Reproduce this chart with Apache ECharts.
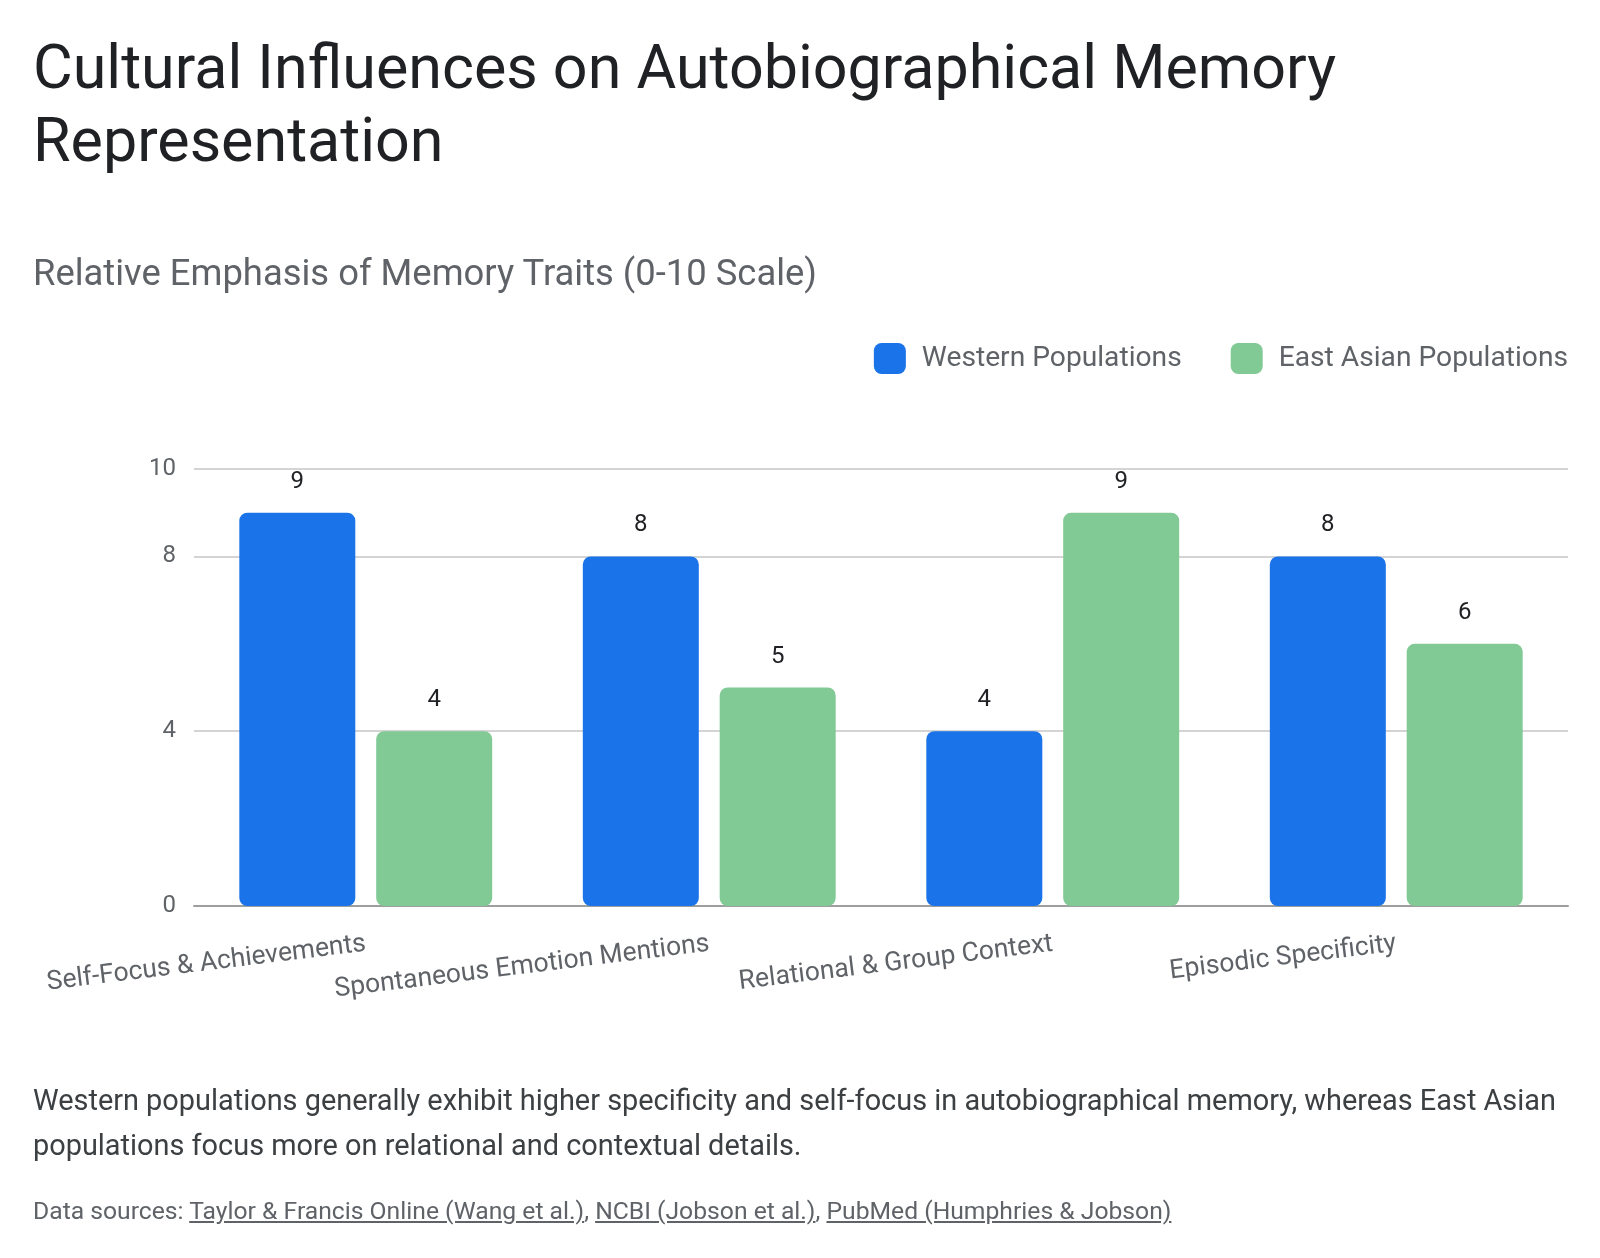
<!DOCTYPE html>
<html>
<head>
<meta charset="utf-8">
<script src="https://cdn.jsdelivr.net/npm/echarts@6/dist/echarts.min.js"></script>
<style>
  html, body { margin: 0; padding: 0; background: #fff; }
  body { width: 1600px; height: 1258px; position: relative; overflow: hidden; font-family: Roboto, "Noto Sans", sans-serif; }
  #chart { position: absolute; left: 0; top: 0; width: 1600px; height: 1258px; }
  .txt { position: absolute; left: 33px; white-space: nowrap; }
  #title { top: 31px; font-size: 61px; line-height: 73px; color: #202124; white-space: normal; width: 1500px; }
  #subtitle { top: 255px; font-size: 36.4px; line-height: 36px; color: #5f6368; }
  #note { top: 1078px; font-size: 28.9px; line-height: 45px; color: #3c4043; white-space: normal; width: 1550px; }
  #src { top: 1196px; font-size: 24.7px; line-height: 29px; color: #5f6368; }
  #src a { color: #5f6368; text-decoration: underline; }
</style>
</head>
<body>
<div id="chart"></div>
<div class="txt" id="title">Cultural Influences on Autobiographical Memory Representation</div>
<div class="txt" id="subtitle">Relative Emphasis of Memory Traits (0-10 Scale)</div>
<div class="txt" id="note">Western populations generally exhibit higher specificity and self-focus in autobiographical memory, whereas East Asian populations focus more on relational and contextual details.</div>
<div class="txt" id="src">Data sources: <a>Taylor &amp; Francis Online (Wang et al.)</a>, <a>NCBI (Jobson et al.)</a>, <a>PubMed (Humphries &amp; Jobson)</a></div>
<script>
const categories = ["Self-Focus & Achievements", "Spontaneous Emotion Mentions", "Relational & Group Context", "Episodic Specificity"];
const seriesNames = ["Western Populations", "East Asian Populations"];
const westernValues = [9, 8, 4, 8];
const eastAsianValues = [4, 5, 9, 6];
const yTicks = [0, 4, 8, 10];

const chart = echarts.init(document.getElementById('chart'), null, { renderer: 'canvas' });
const labelStyle = { show: true, position: 'top', distance: 19, fontSize: 24, color: '#202124', fontFamily: 'Roboto' };
chart.setOption({
  animation: false,
  textStyle: { fontFamily: 'Roboto' },
  legend: {
    data: seriesNames,
    right: 27, top: 338,
    icon: 'roundRect',
    itemWidth: 32, itemHeight: 31, itemGap: 49,
    textStyle: { fontSize: 28.2, color: '#5f6368', padding: [0, 0, 0, 11] }
  },
  grid: { left: 194, right: 32, top: 469, bottom: 352, containLabel: false },
  xAxis: {
    type: 'category',
    data: categories,
    axisLine: { lineStyle: { color: '#9e9e9e', width: 2 } },
    axisTick: { show: false },
    axisLabel: { rotate: 7, fontSize: 26.5, color: '#5f6368', margin: 38, interval: 0 }
  },
  yAxis: {
    type: 'value', min: 0, max: 10,
    axisLine: { show: false },
    axisTick: { show: false, customValues: yTicks },
    axisLabel: { customValues: yTicks, fontSize: 24, color: '#5f6368', margin: 18 },
    splitLine: { lineStyle: { color: '#c6c6c6', width: 1.5 } }
  },
  series: [
    { name: seriesNames[0], type: 'bar', data: westernValues, barWidth: 116, barGap: '18%',
      itemStyle: { color: '#1a73e8', borderRadius: 8 }, label: labelStyle },
    { name: seriesNames[1], type: 'bar', data: eastAsianValues, barWidth: 116,
      itemStyle: { color: '#81c995', borderRadius: 8 }, label: labelStyle }
  ]
});
</script>
</body>
</html>
